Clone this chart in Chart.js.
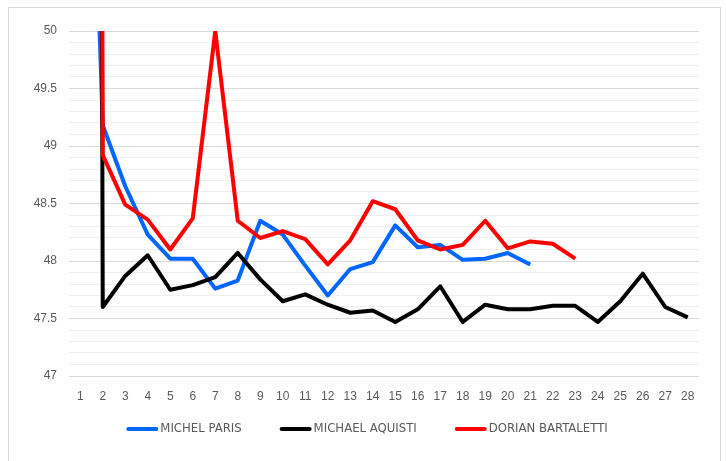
<!DOCTYPE html>
<html>
<head>
<meta charset="utf-8">
<script src="https://cdn.jsdelivr.net/npm/chart.js@4/dist/chart.umd.min.js"></script>
<style>
  html, body { margin: 0; padding: 0; background: #fff; overflow: hidden; }
  #frame {
    position: absolute; left: 8px; top: 7px; width: 711px; height: 470px;
    border: 1px solid #d9d9d9; border-bottom: none;
  }
  #lapChart { position: absolute; left: 0; top: 0; }
</style>
</head>
<body>
<div id="frame"></div>
<canvas id="lapChart" width="726" height="461"></canvas>
<script>
// Tours 1..28
const laps = ['1', '2', '3', '4', '5', '6', '7', '8', '9', '10', '11', '12', '13', '14',
  '15', '16', '17', '18', '19', '20', '21', '22', '23', '24', '25', '26', '27', '28'];

// temps au tour (le tour 1 sort du cadre)
const michelParis = [55, 49.18, 48.65, 48.23, 48.02, 48.02, 47.76, 47.83, 48.35, 48.23,
  47.96, 47.70, 47.93, 47.99, 48.31, 48.12, 48.14, 48.01, 48.02, 48.07, 47.97];
const michaelAquisti = [120, 47.60, 47.87, 48.05, 47.75, 47.79, 47.86, 48.07, 47.84, 47.65,
  47.71, 47.62, 47.55, 47.57, 47.47, 47.58, 47.78, 47.47, 47.62, 47.58,
  47.58, 47.61, 47.61, 47.47, 47.65, 47.89, 47.60, 47.51];
const dorianBartaletti = [120, 48.92, 48.49, 48.36, 48.10, 48.37, 50.0, 48.35, 48.20, 48.26,
  48.19, 47.97, 48.18, 48.52, 48.45, 48.18, 48.10, 48.14, 48.35, 48.11,
  48.17, 48.15, 48.02];

const yMin = 47;
const yMax = 50;
const yMinorStep = 0.1;
const yLabelStep = 0.5;

const isMajor = v => Math.abs(v / yLabelStep - Math.round(v / yLabelStep)) < 1e-6;

// légende dessinée à la main (trait + texte collé)
const lineLegend = {
  id: 'lineLegend',
  afterDraw(chart, args, opts) {
    const ctx = chart.ctx;
    ctx.save();
    ctx.font = opts.font;
    ctx.textBaseline = 'middle';
    const items = chart.data.datasets.map(ds => ({ ds, w: ctx.measureText(ds.label).width }));
    let total = opts.itemGap * (items.length - 1);
    items.forEach(it => { total += opts.lineLength + opts.textGap + it.w; });
    let x = opts.centerX - total / 2;
    const y = opts.y;
    items.forEach(it => {
      ctx.strokeStyle = it.ds.borderColor;
      ctx.lineWidth = opts.lineWidth;
      ctx.lineCap = 'round';
      ctx.beginPath();
      ctx.moveTo(x + 2, y);
      ctx.lineTo(x + opts.lineLength - 2, y);
      ctx.stroke();
      x += opts.lineLength + opts.textGap;
      ctx.fillStyle = opts.color;
      ctx.fillText(it.ds.label, x, y);
      x += it.w + opts.itemGap;
    });
    ctx.restore();
  }
};

const ctx = document.getElementById('lapChart').getContext('2d');
const lapChart = new Chart(ctx, {
  type: 'line',
  data: {
    labels: laps,
    datasets: [
      { label: 'MICHEL PARIS', data: michelParis, borderColor: '#0066ff', order: 3 },
      { label: 'MICHAEL AQUISTI', data: michaelAquisti, borderColor: '#000000', order: 2 },
      { label: 'DORIAN BARTALETTI', data: dorianBartaletti, borderColor: '#ff0000', order: 1 }
    ]
  },
  options: {
    responsive: false,
    animation: false,
    datasets: {
      line: { borderWidth: 4, pointRadius: 0, tension: 0, fill: false, borderJoinStyle: 'round' }
    },
    layout: { padding: { left: 9, right: 27, top: 31, bottom: 55 } },
    scales: {
      x: {
        offset: true,
        grid: { display: false },
        border: { display: false },
        ticks: {
          color: '#595959',
          font: { family: "'Liberation Sans', Arial, sans-serif", size: 12 },
          padding: 5,
          autoSkip: false,
          maxRotation: 0
        },
        afterFit: scale => { scale.height = 30; }
      },
      y: {
        min: yMin,
        max: yMax,
        border: { display: false },
        grid: {
          drawTicks: false,
          color: c => isMajor(c.tick.value) ? '#d9d9d9' : '#efefef'
        },
        ticks: {
          stepSize: yMinorStep,
          maxTicksLimit: 100,
          autoSkip: false,
          padding: 12,
          color: '#595959',
          font: { family: "'Liberation Sans', Arial, sans-serif", size: 12 },
          callback: v => isMajor(v) ? String(Math.round(v * 10) / 10) : ''
        },
        afterFit: scale => { scale.width = 60; }
      }
    },
    plugins: {
      legend: { display: false },
      tooltip: { enabled: false },
      lineLegend: {
        font: "13px 'Liberation Sans Narrow', 'DejaVu Sans Condensed', sans-serif",
        color: '#595959',
        lineWidth: 4,
        lineLength: 32,
        textGap: 2,
        itemGap: 38,
        centerX: 367,
        y: 429
      }
    }
  },
  plugins: [lineLegend]
});
</script>
</body>
</html>
